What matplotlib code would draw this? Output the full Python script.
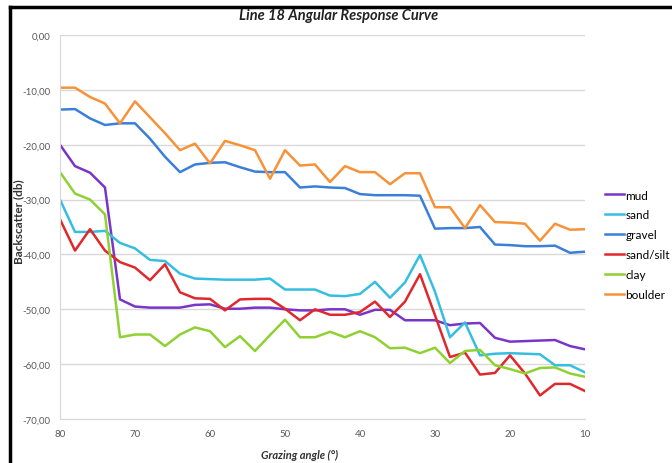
import matplotlib
matplotlib.use("Agg")
import matplotlib.pyplot as plt
from matplotlib.ticker import FuncFormatter
import numpy as np

# grazing angles, 80 down to 10 in 2 degree steps
angles = list(range(80, 8, -2))

mud = [-20.0, -23.9, -25.1, -27.8, -48.2, -49.5, -49.7, -49.7, -49.7, -49.2,
       -49.1, -49.9, -49.9, -49.7, -49.7, -50.0, -50.2, -50.2, -50.0, -50.0,
       -51.0, -50.1, -50.1, -52.0, -52.0, -52.0, -52.9, -52.6, -52.5, -55.2,
       -55.9, -55.8, -55.7, -55.6, -56.7, -57.3]
sand = [-30.0, -35.9, -35.9, -35.7, -37.9, -38.9, -41.0, -41.2, -43.5, -44.4,
        -44.5, -44.6, -44.6, -44.6, -44.4, -46.4, -46.4, -46.4, -47.5, -47.6,
        -47.2, -45.0, -47.9, -45.1, -40.1, -46.8, -55.1, -52.4, -58.4, -58.1,
        -58.0, -58.1, -58.2, -60.2, -60.2, -61.5]
gravel = [-13.6, -13.5, -15.2, -16.4, -16.1, -16.1, -18.9, -22.2, -25.0, -23.6,
          -23.3, -23.2, -24.1, -24.9, -25.0, -25.0, -27.8, -27.6, -27.8, -27.9,
          -29.0, -29.2, -29.2, -29.2, -29.3, -35.3, -35.2, -35.2, -35.0, -38.2,
          -38.3, -38.5, -38.5, -38.4, -39.7, -39.5]
sand_silt = [-33.6, -39.3, -35.4, -39.3, -41.4, -42.4, -44.7, -41.8, -46.9, -48.0,
             -48.1, -50.2, -48.2, -48.1, -48.1, -49.9, -52.0, -50.0, -51.0, -51.0,
             -50.5, -48.6, -51.4, -48.6, -43.6, -51.1, -58.7, -57.9, -61.9, -61.6,
             -58.4, -61.7, -65.7, -63.6, -63.6, -64.9]
clay = [-25.0, -28.9, -30.0, -32.7, -55.1, -54.6, -54.6, -56.7, -54.6, -53.3,
        -54.0, -56.9, -54.9, -57.6, -54.7, -51.9, -55.1, -55.1, -54.1, -55.1,
        -54.0, -55.1, -57.1, -57.0, -58.0, -57.0, -59.8, -57.6, -57.4, -60.2,
        -60.9, -61.7, -60.7, -60.6, -61.7, -62.3]
boulder = [-9.6, -9.6, -11.3, -12.5, -16.1, -12.1, -15.0, -17.9, -21.0, -19.8,
           -23.4, -19.3, -20.1, -21.0, -26.2, -21.0, -23.8, -23.6, -26.8, -23.9,
           -25.0, -25.0, -27.2, -25.2, -25.2, -31.4, -31.4, -35.2, -31.0, -34.1,
           -34.2, -34.4, -37.5, -34.4, -35.5, -35.4]

series = [("mud", mud, "#7A35C8"),
          ("sand", sand, "#36BEE0"),
          ("gravel", gravel, "#3A7FD8"),
          ("sand/silt", sand_silt, "#E0282C"),
          ("clay", clay, "#8FD132"),
          ("boulder", boulder, "#F79239")]

plt.rcParams['font.family'] = ['Lato', 'DejaVu Sans']

fig = plt.figure(figsize=(6.72, 4.64), dpi=100)
ax = fig.add_axes([60 / 672, 1 - 420 / 464, 525 / 672, 384 / 464])

for name, vals, col in series:
    ax.plot(angles, vals, color=col, lw=1.8, label=name)

ax.set_xlim(80, 10)
ax.set_ylim(-70, 0)
ax.set_xticks(range(80, 0, -10))
ax.set_yticks(range(-70, 1, 10))
ax.yaxis.set_major_formatter(FuncFormatter(lambda v, p: f"{v:.2f}".replace(".", ",")))
ax.tick_params(length=0, labelsize=7, colors="#595959", pad=7)
ax.grid(axis="y", color="#D9D9D9", lw=1)
ax.set_axisbelow(True)
for s in ["top", "right"]:
    ax.spines[s].set_visible(False)
for s in ["left", "bottom"]:
    ax.spines[s].set_color("#D9D9D9")

fig.text(339 / 672, 1 - 16 / 464, "Line 18 Angular Response Curve", ha="center", va="center",
         fontsize=10.5, fontweight="bold", style="italic", color="#222222")
fig.text(300 / 672, 1 - 455 / 464, "Grazing angle (°)", ha="center", va="center",
         fontsize=8, fontweight="bold", style="italic", color="#333333")
fig.text(19 / 672, 1 - 222 / 464, "Backscatter (db)", ha="center", va="center",
         rotation=90, fontsize=8.5, fontweight="bold", color="#333333")

ax.legend(loc="center left", bbox_to_anchor=(1.03, 0.454), frameon=False, fontsize=8.5,
          handlelength=1.6, handletextpad=0.1, labelspacing=0.75, borderaxespad=0)

# black frame along the top and left edge
fig.add_artist(plt.Line2D([9.5 / 672, 9.5 / 672], [0, 1 - 8 / 464], color="black", lw=2.5))
fig.add_artist(plt.Line2D([9.5 / 672, 1], [1 - 8 / 464, 1 - 8 / 464], color="black", lw=2.5))

fig.savefig("out.png", dpi=100)
